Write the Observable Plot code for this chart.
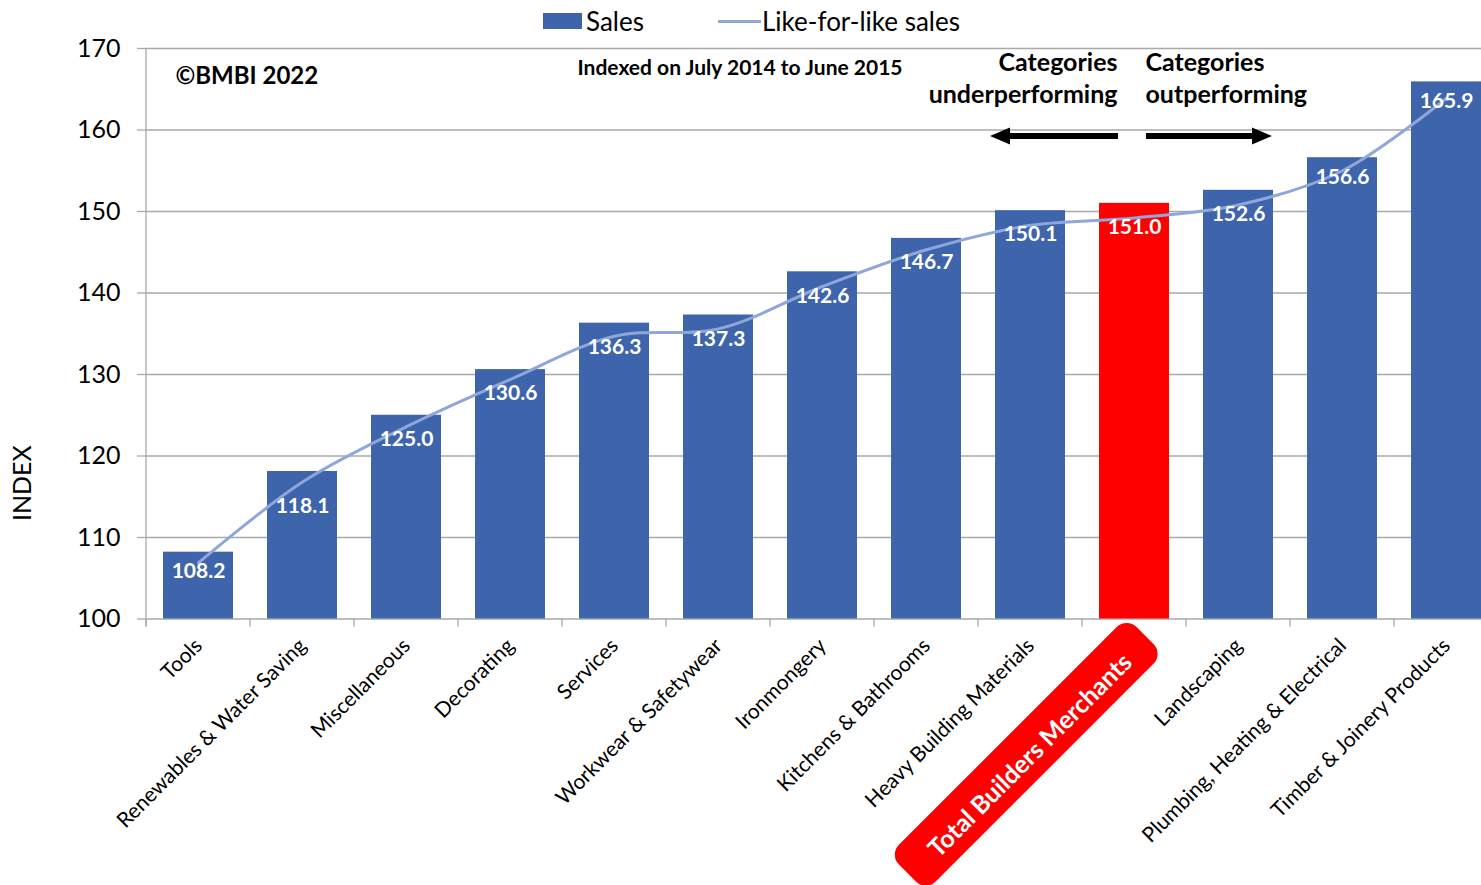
<!DOCTYPE html>
<html>
<head>
<meta charset="utf-8">
<script src="https://cdn.jsdelivr.net/npm/d3@7"></script>
<script src="https://cdn.jsdelivr.net/npm/@observablehq/plot@0.6"></script>
<style>
  html, body { margin: 0; padding: 0; background: #fff; overflow: hidden; }
  #wrap { position: relative; width: 1481px; height: 885px; font-family: Lato, "Open Sans", sans-serif; }
  #legend { position: absolute; left: 0; top: 0; width: 1481px; height: 40px; z-index: 2; }
  .lg-sw { position: absolute; }
  .lg-tx { position: absolute; font-size: 26px; line-height: 28px; color: #000; white-space: nowrap; }
  #chart { position: absolute; left: 0; top: 0; }
</style>
</head>
<body>
<div id="wrap">
  <div id="legend"></div>
  <div id="chart"></div>
</div>
<script>
// ---- data ----
const categories = [
  "Tools",
  "Renewables & Water Saving",
  "Miscellaneous",
  "Decorating",
  "Services",
  "Workwear & Safetywear",
  "Ironmongery",
  "Kitchens & Bathrooms",
  "Heavy Building Materials",
  "Total Builders Merchants",
  "Landscaping",
  "Plumbing, Heating & Electrical",
  "Timber & Joinery Products"
];
const salesIndex = [108.2, 118.1, 125.0, 130.6, 136.3, 137.3, 142.6, 146.7, 150.1, 151.0, 152.6, 156.6, 165.9];
const likeForLikeIndex = [106.9, 116.8, 123.6, 129.4, 134.7, 135.6, 140.8, 145.3, 148.3, 149.2, 150.8, 155.0, 163.9];
const yTicks = [100, 110, 120, 130, 140, 150, 160, 170];
const highlight = "Total Builders Merchants";
const seriesNames = ["Sales", "Like-for-like sales"];
const copyrightText = "©BMBI 2022";
const noteText = "Indexed on July 2014 to June 2015";
const underText = ["Categories", "underperforming"];
const outText = ["Categories", "outperforming"];
const axisTitle = "INDEX";

// ---- colours ----
const BLUE = "#3E64AC";
const RED = "#FF0000";
const LINE = "#8EA6DA";
const GRID = "#A9A9A9";
const FONT = "Lato, 'Open Sans', sans-serif";

const data = categories.map((c, i) => ({category: c, sales: salesIndex[i], lfl: likeForLikeIndex[i]}));

// ---- legend (HTML, above the plot area) ----
const legend = document.getElementById("legend");
legend.innerHTML = `
  <div class="lg-sw" style="left:543px;top:13px;width:39px;height:16px;background:${BLUE}"></div>
  <div class="lg-tx" style="left:586px;top:7px">${seriesNames[0]}</div>
  <div class="lg-sw" style="left:718px;top:20px;width:43px;height:2.5px;background:${LINE}"></div>
  <div class="lg-tx" style="left:762px;top:7px">${seriesNames[1]}</div>`;

// ---- custom decorations drawn through the scales ----
function decorations(index, scales, values, dims) {
  const x = scales.x, y = scales.y;
  const bw = x.bandwidth ? x.bandwidth() : 0;
  const step = x.step ? x.step() : (x(categories[1]) - x(categories[0]));
  const center = c => x(c) + bw / 2;
  const left = c => center(c) - step / 2;
  const y0 = y(100), yTop = y(170);
  const g = d3.create("svg:g");
  // y axis line
  g.append("line").attr("x1", left(categories[0])).attr("x2", left(categories[0]))
    .attr("y1", yTop).attr("y2", y0 + 8).attr("stroke", GRID).attr("stroke-width", 1.3);
  // category boundary ticks
  for (const c of categories) {
    g.append("line").attr("x1", left(c)).attr("x2", left(c))
      .attr("y1", y0).attr("y2", y0 + 8).attr("stroke", GRID).attr("stroke-width", 1.3);
  }
  // arrows
  const arrow = (xTail, xTip, yy) => {
    const dir = Math.sign(xTip - xTail), hl = 20, hh = 8.5, st = 3;
    const xb = xTip - dir * hl;
    g.append("path").attr("fill", "#000").attr("d",
      `M${xTail},${yy - st}L${xb},${yy - st}L${xb},${yy - hh}L${xTip},${yy}L${xb},${yy + hh}L${xb},${yy + st}L${xTail},${yy + st}Z`);
  };
  const cT = center(highlight);
  const ay = y(159.2);
  arrow(cT - 16, cT - 144, ay);
  arrow(cT + 12, cT + 138, ay);
  // highlighted category label
  const lab = g.append("g").attr("transform", `translate(${cT + 11},${y0 + 17}) rotate(-45)`);
  lab.append("rect").attr("x", -336).attr("y", -26).attr("width", 336).attr("height", 52)
    .attr("rx", 14).attr("fill", RED);
  lab.append("text").attr("x", -166).attr("y", 2).attr("text-anchor", "middle")
    .attr("dominant-baseline", "central").attr("fill", "#fff").attr("font-weight", "bold")
    .attr("font-size", 25).attr("font-family", FONT).text(highlight);
  // y axis title
  g.append("text").attr("transform", `translate(21,${y(116.6)}) rotate(-90)`)
    .attr("text-anchor", "middle").attr("dominant-baseline", "central")
    .attr("font-size", 25).attr("font-family", FONT).attr("fill", "#000").text(axisTitle);
  return g.node();
}

const headText = (lines, dxOff, anchor) => lines.map((t, i) =>
  Plot.text([t], {x: () => highlight, frameAnchor: "top", textAnchor: anchor,
    dx: dxOff, dy: 4.5 + i * 32, fontWeight: "bold", fontSize: 25, fill: "#000"}));

// value labels: most sit just inside the bar end; a few were nudged in the original
const valueLabels = (filter, dy) => Plot.text(data.filter(filter), {x: "category", y: "sales",
  text: d => d.sales.toFixed(1), dy, fill: "#fff", fontWeight: "bold", fontSize: 21});
const nudgedUp = ["Tools", "Plumbing, Heating & Electrical", "Timber & Joinery Products"];
const nudgedDown = ["Renewables & Water Saving"];

const chart = Plot.plot({
  width: 1481,
  height: 885,
  marginLeft: 146,
  marginRight: 0,
  marginTop: 48,
  marginBottom: 266.5,
  style: {fontFamily: FONT, background: "transparent", overflow: "visible"},
  x: {domain: categories, range: [146, 1498], paddingInner: 0.327, paddingOuter: 0.1635, axis: null},
  y: {domain: [100, 170], axis: null},
  color: {type: "identity"},
  marks: [
    Plot.gridY(yTicks, {stroke: GRID, strokeOpacity: 1, strokeWidth: 1.3}),
    Plot.axisY(yTicks, {tickSize: 9, tickPadding: 17, fontSize: 25, stroke: GRID, strokeWidth: 1.3, label: null, fill: "#000"}),
    Plot.barY(data, {x: "category", y1: 100, y2: "sales", fill: d => d.category === highlight ? RED : BLUE}),
    Plot.line(data, {x: "category", y: "lfl", stroke: LINE, strokeWidth: 3, curve: "catmull-rom"}),
    valueLabels(d => !nudgedUp.includes(d.category) && !nudgedDown.includes(d.category), 24),
    valueLabels(d => nudgedUp.includes(d.category), 19.5),
    valueLabels(d => nudgedDown.includes(d.category), 35),
    Plot.text(data.filter(d => d.category !== highlight), {x: "category", frameAnchor: "bottom",
      text: "category", rotate: -45, textAnchor: "end", dx: 5, dy: 28, fontSize: 21, fill: "#000"}),
    Plot.text([copyrightText], {frameAnchor: "top-left", textAnchor: "start", dx: 29, dy: 18,
      fontWeight: "bold", fontSize: 24, fill: "#000"}),
    Plot.text([noteText], {frameAnchor: "top-left", textAnchor: "start", dx: 431, dy: 12,
      fontWeight: "bold", fontSize: 21, fill: "#000"}),
    ...headText(underText, -17, "end"),
    ...headText(outText, 11, "start"),
    decorations
  ]
});
document.getElementById("chart").appendChild(chart);
</script>
</body>
</html>
